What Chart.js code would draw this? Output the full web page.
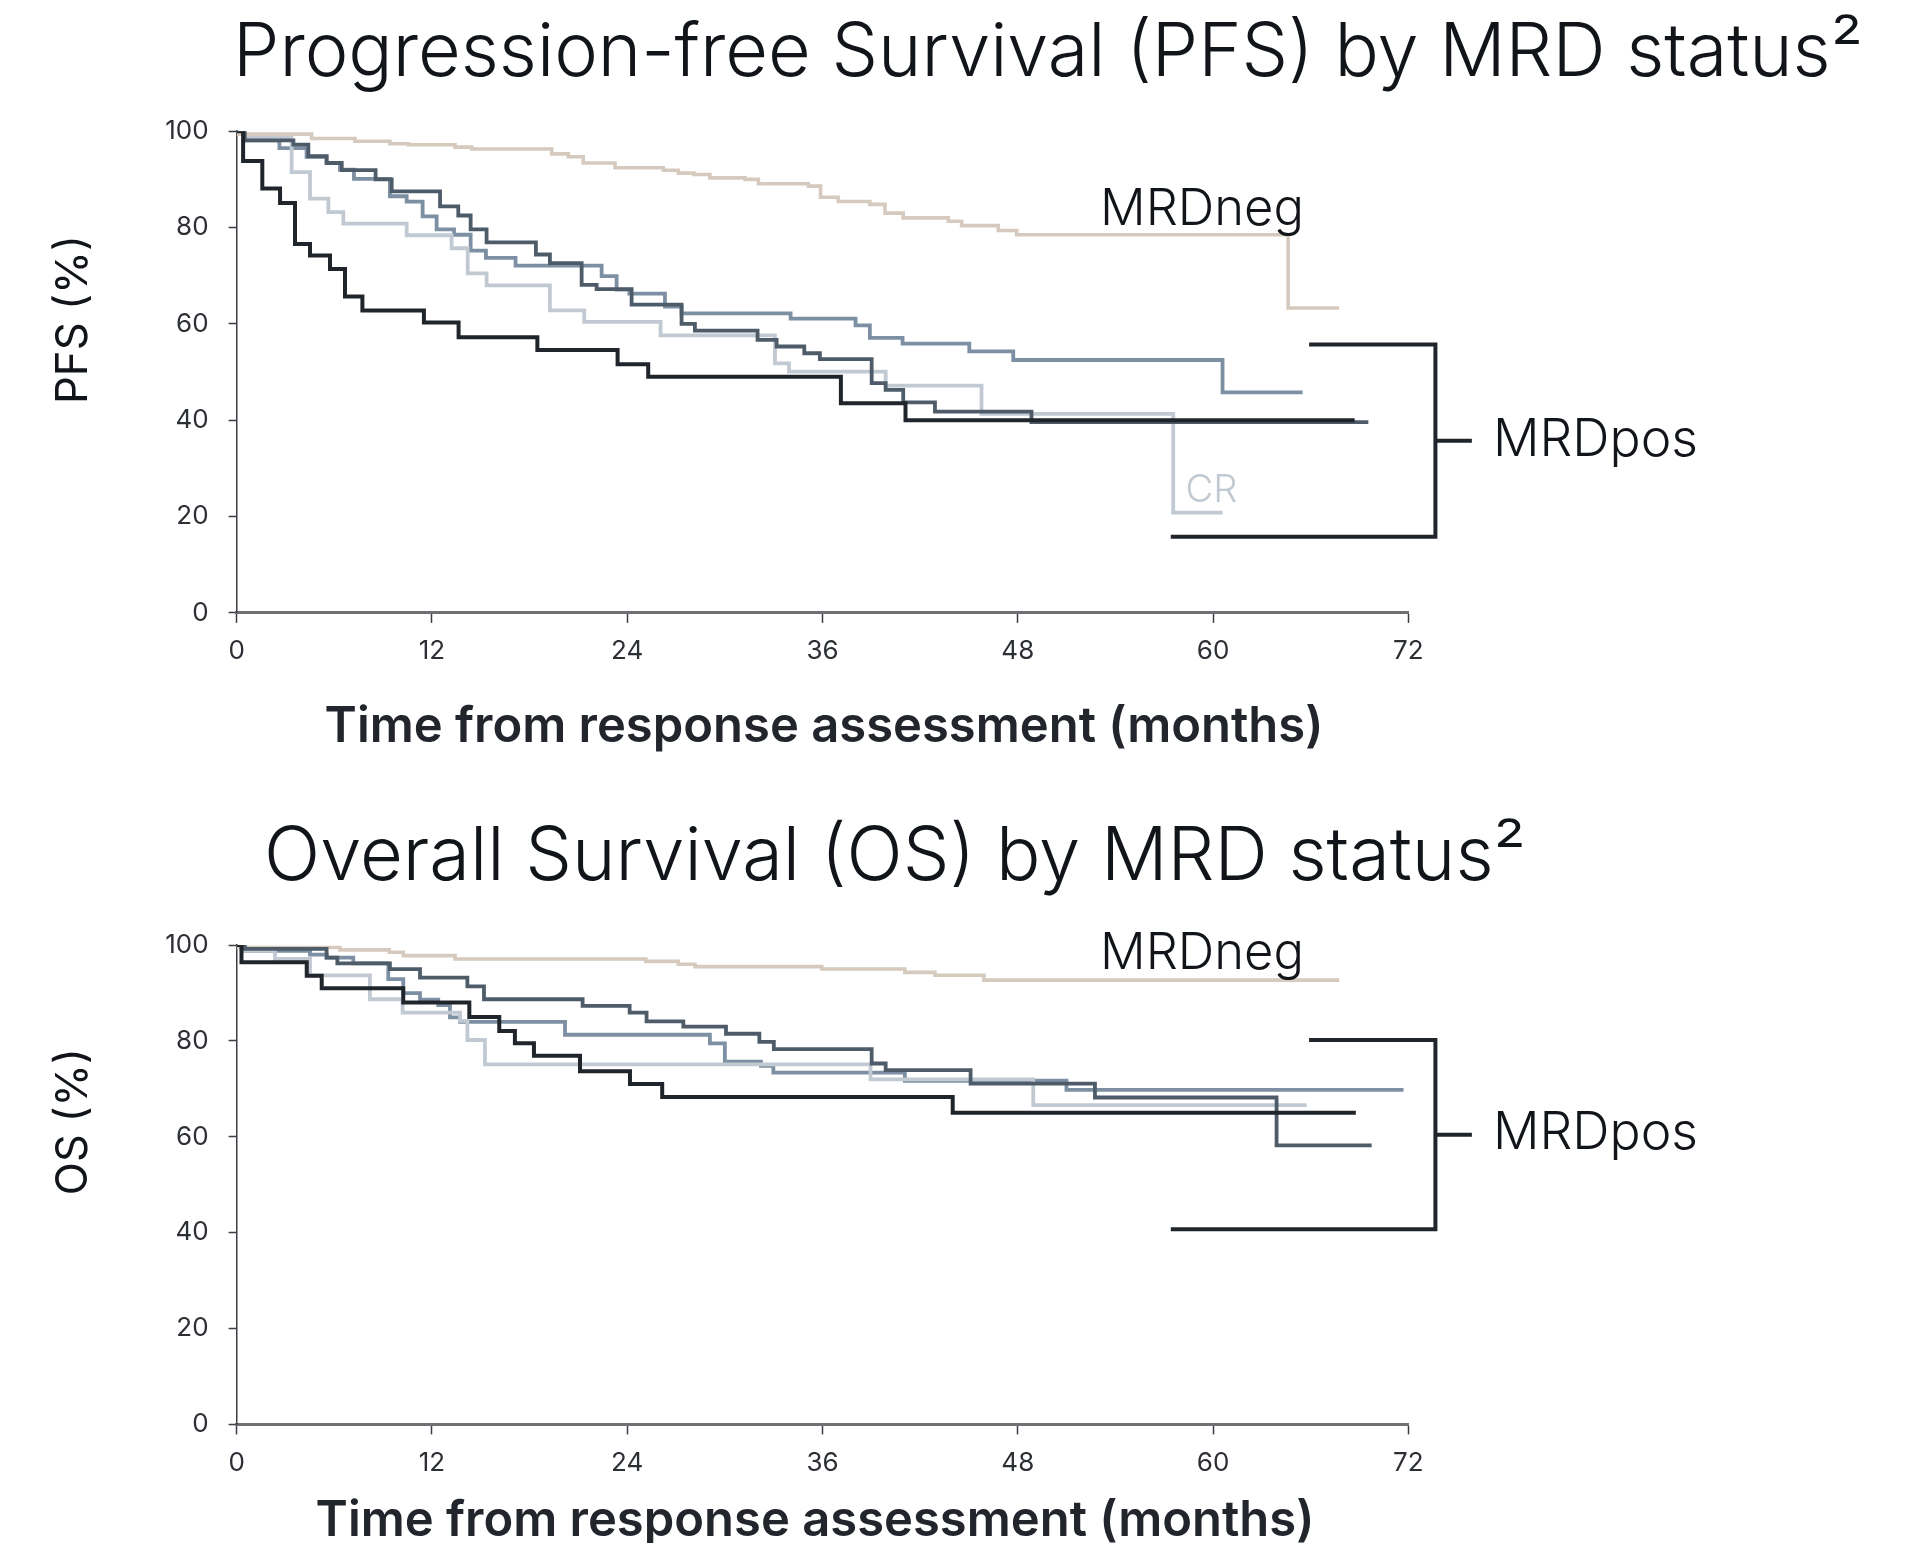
<!DOCTYPE html>
<html>
<head>
<meta charset="utf-8">
<script src="https://cdn.jsdelivr.net/npm/chart.js@4.4.1/dist/chart.umd.min.js"></script>
<style>
  html, body { margin: 0; padding: 0; background: #ffffff; }
  body { width: 1922px; height: 1543px; position: relative; overflow: hidden; }
  canvas { position: absolute; left: 0; }
  #pfsChart { top: 0; }
  #osChart { top: 770px; }
</style>
</head>
<body>
<canvas id="pfsChart" width="1922" height="770"></canvas>
<canvas id="osChart" width="1922" height="773"></canvas>
<script>
// Axis ticks
const monthTicks = [0, 12, 24, 36, 48, 60, 72];
const pctTicks = [0, 20, 40, 60, 80, 100];

// Progression-free survival, [month, %]
const pfsMrdNeg = [[0,99.4],[4.61,98.5],[7.27,97.9],[9.42,97.4],[10.55,97.2],[13.42,96.7],[14.44,96.3],[19.36,95.3],[20.38,94.7],[21.30,93.4],[23.25,92.4],[26.22,91.9],[27.14,91.3],[28.10,91.0],[29.08,90.3],[31.24,90.0],[32.06,89.1],[35.13,88.6],[35.88,86.3],[36.97,85.4],[38.91,84.8],[39.84,83.0],[40.96,82.0],[43.73,81.3],[44.55,80.4],[46.80,79.4],[47.93,78.5],[64.61,63.3],[67.75,63.3]];
const pfsPosDarkest = [[0,100],[0.4,93.8],[1.58,88.1],[2.67,85.1],[3.59,76.6],[4.51,74.2],[5.74,71.4],[6.66,65.7],[7.73,62.8],[11.51,60.3],[13.64,57.2],[18.48,54.6],[23.41,51.6],[25.29,49.0],[37.13,43.5],[41.1,40.0],[68.7,40.0]];
const pfsPosDark = [[0,100],[0.5,98.1],[3.49,97.2],[4.41,94.8],[5.53,93.4],[6.46,91.9],[8.54,90.0],[9.53,87.5],[12.50,84.4],[13.62,82.5],[14.38,79.6],[15.36,76.9],[18.39,74.4],[19.25,72.6],[21.20,68.1],[22.12,67.2],[24.27,64.0],[27.34,60.0],[28.16,58.6],[32.01,56.7],[33.18,55.3],[34.88,53.9],[35.84,52.7],[39.02,47.7],[39.88,46.3],[40.96,43.7],[42.91,41.8],[48.84,39.6],[69.54,39.6]];
const pfsPosMid = [[0,100],[0.5,98.1],[2.63,96.5],[4.30,94.7],[5.53,93.4],[6.35,92.0],[7.21,90.1],[9.42,86.5],[10.45,85.4],[11.43,82.3],[12.29,79.6],[13.36,78.5],[14.38,75.2],[15.32,73.7],[17.14,72.1],[22.43,69.9],[23.35,67.1],[24.13,66.3],[26.32,63.6],[27.34,62.2],[34.04,61.1],[38.03,59.7],[38.91,57.1],[40.92,55.9],[45.02,54.3],[47.72,52.5],[60.58,45.8],[65.5,45.8]];
const pfsCR = [[0,100],[0.5,98.6],[3.38,91.5],[4.51,86.0],[5.64,83.2],[6.56,80.8],[10.45,78.4],[13.21,75.7],[14.20,70.5],[15.36,68.0],[19.25,62.8],[21.36,60.4],[26.05,57.6],[33.08,51.8],[33.94,50.1],[39.88,47.2],[45.77,41.3],[57.55,20.8],[60.58,20.8]];
const pfsBracket = [[65.9,55.7],[73.66,55.7],[73.66,15.8],[57.4,15.8]];
const pfsBracketTick = [[75.9,35.75],[73.66,35.75]];

// Overall survival, [month, %]
const osMrdNeg = [[0,99.5],[6.35,99.0],[9.38,98.5],[10.24,97.8],[13.42,97.1],[25.15,96.6],[27.14,96.0],[28.16,95.5],[35.95,95.0],[41.06,94.3],[42.91,93.7],[45.92,92.7],[67.75,92.7]];
const osPosDarkest = [[0,100],[0.3,96.4],[4.31,93.6],[5.23,91.0],[10.24,88.0],[14.30,85.0],[16.14,82.1],[17.10,79.5],[18.27,76.9],[21.10,73.7],[24.17,71.0],[26.15,68.3],[44.0,65.0],[68.77,65.0]];
const osPosDark = [[0,100],[0.5,99.2],[5.53,97.4],[6.19,96.2],[9.42,95.0],[11.27,93.2],[14.18,91.4],[15.20,88.7],[21.26,87.3],[24.15,85.9],[25.19,84.1],[27.45,83.0],[30.07,81.5],[32.12,79.8],[33.01,78.3],[39.02,75.3],[39.88,73.9],[45.10,71.1],[52.74,68.2],[63.90,58.2],[69.74,58.2]];
const osPosMid = [[0,100],[0.5,98.8],[4.51,98.0],[5.53,97.4],[7.17,96.2],[9.32,92.9],[10.24,90.0],[11.27,88.6],[12.39,87.5],[13.11,84.9],[13.73,84.0],[20.18,81.3],[29.08,79.5],[30.0,75.7],[32.22,74.8],[32.98,73.4],[41.06,71.7],[50.99,69.8],[71.7,69.8]];
const osCR = [[0,100],[0.3,98.8],[2.36,97.1],[4.51,93.7],[8.19,88.7],[10.20,85.9],[13.73,84.2],[14.18,80.2],[15.26,75.1],[38.95,72.0],[48.95,66.6],[65.74,66.6]];
const osBracket = [[65.9,80.2],[73.66,80.2],[73.66,40.7],[57.4,40.7]];
const osBracketTick = [[75.9,60.45],[73.66,60.45]];

// Line styles per group
const STYLE = {
  neg:      { color: '#d5cabd', width: 3.6, order: 5 },
  cr:       { color: '#c1c9d2', width: 3.8, order: 3 },
  mid:      { color: '#7d90a3', width: 3.8, order: 4 },
  dark:     { color: '#4e5b69', width: 3.8, order: 2 },
  darkest:  { color: '#20252b', width: 4.0, order: 1 },
  bracket:  { color: '#20252b', width: 4.0, order: 0 }
};

const FONT = 'Inter, "IBM Plex Sans", Roboto, "Open Sans", sans-serif';
const INK = '#111418';

const toPoints = pairs => pairs.map(([x, y]) => ({ x, y }));

function kmDataset(label, pairs, style) {
  return {
    label, data: toPoints(pairs), stepped: true,
    borderColor: style.color, borderWidth: style.width, order: style.order,
    pointRadius: 0, fill: false, borderJoinStyle: 'miter', borderCapStyle: 'butt'
  };
}
function bracketDataset(label, pairs) {
  return {
    label, data: toPoints(pairs), stepped: false, clip: false,
    borderColor: STYLE.bracket.color, borderWidth: STYLE.bracket.width, order: STYLE.bracket.order,
    pointRadius: 0, fill: false, borderJoinStyle: 'miter', borderCapStyle: 'butt'
  };
}

function fitSize(ctx, text, weight, width) {
  ctx.font = `${weight} 100px ${FONT}`;
  return 100 * width / ctx.measureText(text).width;
}

// Draws the headings, axis titles and curve labels
const textPlugin = {
  id: 'pageText',
  afterDraw(chart, args, opts) {
    const { ctx } = chart;
    const { x, y } = chart.scales;
    for (const t of opts.items) {
      ctx.save();
      const px = t.data ? x.getPixelForValue(t.data[0]) : t.px[0];
      const py = t.data ? y.getPixelForValue(t.data[1]) : t.px[1];
      const size = t.width ? fitSize(ctx, t.text, t.weight, t.width) : t.size;
      ctx.font = `${t.weight} ${size}px ${FONT}`;
      ctx.fillStyle = t.color || INK;
      ctx.textAlign = t.align || 'left';
      ctx.textBaseline = t.baseline || 'alphabetic';
      ctx.translate(px, py);
      if (t.rotate) ctx.rotate(t.rotate);
      ctx.fillText(t.text, 0, 0);
      ctx.restore();
    }
  }
};

function makeChart(id, geom, datasets, texts) {
  const canvas = document.getElementById(id);
  const H = canvas.height;
  return new Chart(canvas, {
    type: 'line',
    data: { datasets },
    plugins: [textPlugin],
    options: {
      responsive: false,
      animation: false,
      events: [],
      layout: { padding: { left: 0, top: geom.top, right: 1922 - geom.right, bottom: 0 } },
      plugins: { legend: { display: false }, tooltip: { enabled: false }, title: { display: false },
                 pageText: { items: texts } },
      scales: {
        x: {
          type: 'linear', min: 0, max: 72,
          afterBuildTicks: s => { s.ticks = monthTicks.map(v => ({ value: v })); },
          afterFit: s => { s.height = H - geom.bottom; },
          border: { display: true, color: '#6e7073', width: 3 },
          grid: { display: true, drawOnChartArea: false, drawTicks: true, tickLength: 10, tickColor: '#3a3d42', tickWidth: 1.5 },
          ticks: { padding: 13, color: '#2c2f34', font: { family: FONT, size: 26, weight: 400 } }
        },
        y: {
          type: 'linear', min: 0, max: 100,
          afterBuildTicks: s => { s.ticks = pctTicks.map(v => ({ value: v })); },
          afterFit: s => { s.width = geom.left; },
          border: { display: true, color: '#3a3d42', width: 1.5 },
          grid: { display: true, drawOnChartArea: false, drawTicks: true, tickLength: 8, tickColor: '#3a3d42', tickWidth: 1.5 },
          ticks: { padding: 20, color: '#2c2f34', font: { family: FONT, size: 26, weight: 400 } }
        }
      }
    }
  });
}

makeChart('pfsChart', { left: 236.6, right: 1408.4, top: 131.2, bottom: 612.9 }, [
  kmDataset('MRDneg', pfsMrdNeg, STYLE.neg),
  kmDataset('MRDpos', pfsPosMid, STYLE.mid),
  kmDataset('CR', pfsCR, STYLE.cr),
  kmDataset('MRDpos', pfsPosDark, STYLE.dark),
  kmDataset('MRDpos', pfsPosDarkest, STYLE.darkest),
  bracketDataset('MRDpos group', pfsBracket),
  bracketDataset('MRDpos group tick', pfsBracketTick)
], [
  { text: 'Progression-free Survival (PFS) by MRD status\u00B2', weight: 300, width: 1630, px: [1048, 76], align: 'center' },
  { text: 'PFS (%)', weight: 400, width: 169, px: [74, 319.6], align: 'center', baseline: 'middle', rotate: -Math.PI / 2 },
  { text: 'Time from response assessment (months)', weight: 600, width: 999, px: [824, 742], align: 'center', color: '#22262c' },
  { text: 'MRDneg', weight: 300, width: 204, data: [53.05, 80.5] },
  { text: 'CR', weight: 300, width: 52, data: [58.3, 25.5], baseline: 'middle', color: '#c1c9d2' },
  { text: 'MRDpos', weight: 300, width: 205, data: [77.2, 35.9], baseline: 'middle' }
]);

makeChart('osChart', { left: 236.6, right: 1408.4, top: 175.1, bottom: 654.4 }, [
  kmDataset('MRDneg', osMrdNeg, STYLE.neg),
  kmDataset('MRDpos', osPosMid, STYLE.mid),
  kmDataset('CR', osCR, STYLE.cr),
  kmDataset('MRDpos', osPosDark, STYLE.dark),
  kmDataset('MRDpos', osPosDarkest, STYLE.darkest),
  bracketDataset('MRDpos group', osBracket),
  bracketDataset('MRDpos group tick', osBracketTick)
], [
  { text: 'Overall Survival (OS) by MRD status\u00B2', weight: 300, width: 1262, px: [895, 110], align: 'center' },
  { text: 'OS (%)', weight: 400, width: 147, px: [74, 351.7], align: 'center', baseline: 'middle', rotate: -Math.PI / 2 },
  { text: 'Time from response assessment (months)', weight: 600, width: 999, px: [815, 766], align: 'center', color: '#22262c' },
  { text: 'MRDneg', weight: 300, width: 204, data: [53.05, 95.0] },
  { text: 'MRDpos', weight: 300, width: 205, data: [77.2, 60.6], baseline: 'middle' }
]);
</script>
</body>
</html>
